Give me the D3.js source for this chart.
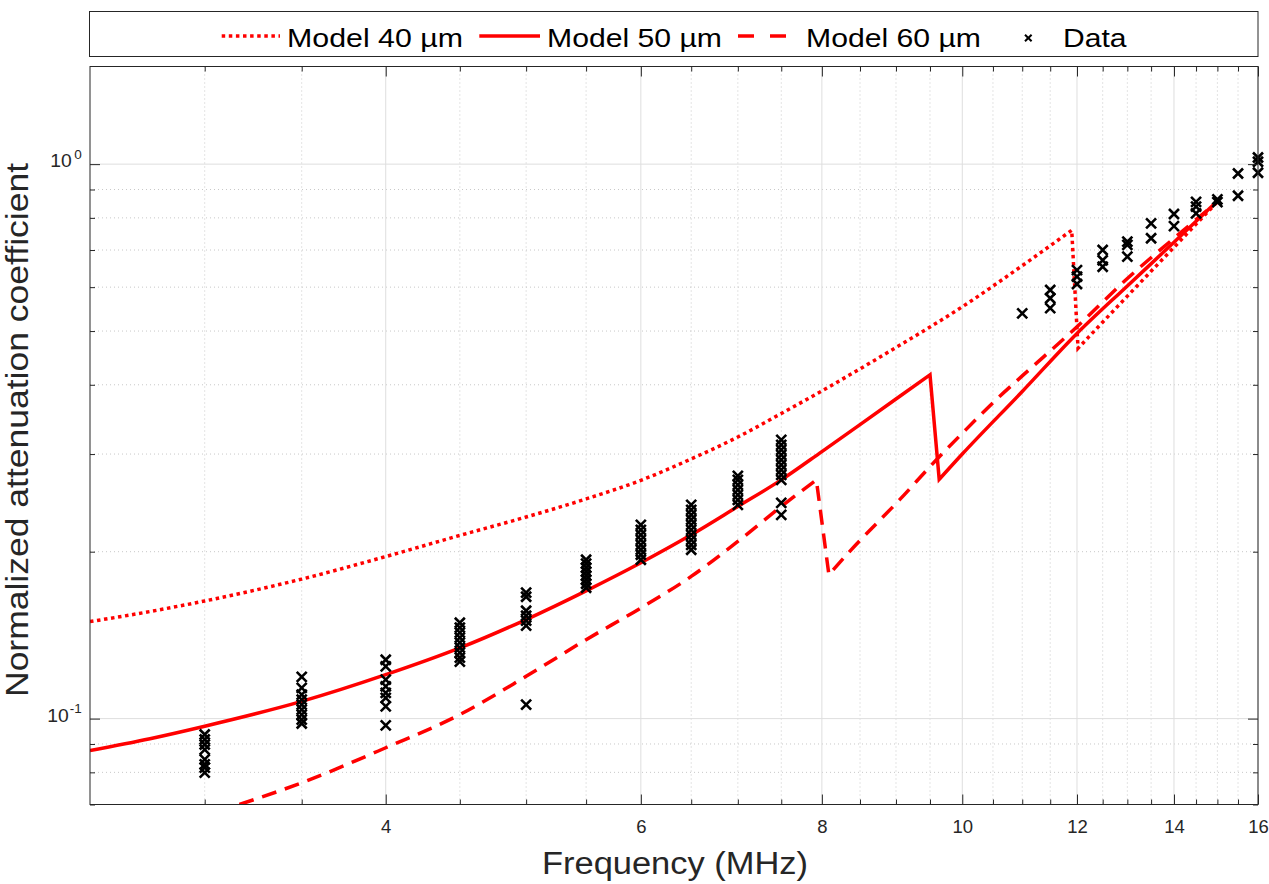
<!DOCTYPE html>
<html>
<head>
<meta charset="utf-8">
<script src="https://cdn.jsdelivr.net/npm/d3@7"></script>
<style>
  html, body { margin: 0; padding: 0; background: #ffffff; }
  svg { display: block; font-family: "Liberation Sans", Arial, Helvetica, sans-serif; }
</style>
</head>
<body>
<svg id="chart" width="1269" height="884"></svg>
<script>
// ---------- data ----------
const xTickValues = [4, 6, 8, 10, 12, 14, 16];
const xTickLabels = ["4", "6", "8", "10", "12", "14", "16"];
const xMinorValues = [3, 3.5, 4.5, 5, 5.5, 6.5, 7, 7.5, 8.5, 9, 9.5, 10.5, 11, 11.5, 12.5, 13, 13.5, 14.5, 15, 15.5];
const yTickValues = [0.1, 1];
const yTickExponents = ["-1", "0"];
const yMinorValues = [0.07, 0.08, 0.09, 0.2, 0.3, 0.4, 0.5, 0.6, 0.7, 0.8, 0.9];

const legendLabels = ["Model 40 µm", "Model 50 µm", "Model 60 µm", "Data"];
const xLabel = "Frequency (MHz)";
const yLabel = "Normalized attenuation coefficient";

const model40Freq = [2.5, 2.75, 3, 3.5, 4, 4.5, 5, 5.5, 6, 6.5, 7, 7.5, 8, 9, 10, 11, 11.9, 12.02, 13, 14, 15];
const model40Value = [0.1496, 0.1560, 0.1630, 0.1785, 0.1960, 0.2140, 0.2310, 0.2490, 0.2690, 0.2940, 0.3220, 0.3550, 0.3900, 0.467, 0.553, 0.656, 0.760, 0.4655, 0.578, 0.708, 0.855];

const model50Freq = [2.5, 2.75, 3, 3.5, 4, 4.5, 5, 5.5, 6, 6.5, 7, 7.5, 8, 8.5, 9, 9.5, 9.64, 10, 11, 12, 13, 14, 15];
const model50Value = [0.0876, 0.0920, 0.0969, 0.1074, 0.1200, 0.1341, 0.1509, 0.1700, 0.1910, 0.2145, 0.2413, 0.2695, 0.3031, 0.339, 0.377, 0.417, 0.270, 0.300, 0.389, 0.495, 0.603, 0.723, 0.858];

const model60Freq = [3.17, 3.5, 4, 4.5, 5, 5.5, 6, 6.5, 7, 7.5, 7.93, 8.09, 8.36, 9.05, 9.62, 10, 10.61, 11, 12, 13, 14, 15];
const model60Value = [0.070, 0.0766, 0.0886, 0.1017, 0.1192, 0.1388, 0.1583, 0.1805, 0.2087, 0.2413, 0.2695, 0.1817, 0.2001, 0.248, 0.2949, 0.327, 0.381, 0.415, 0.509, 0.622, 0.735, 0.855];

const dataFreq = [
  3, 3, 3, 3, 3, 3, 3, 3,
  3.5, 3.5, 3.5, 3.5, 3.5, 3.5, 3.5, 3.5, 3.5,
  4, 4, 4, 4, 4, 4, 4, 4,
  4.5, 4.5, 4.5, 4.5, 4.5, 4.5, 4.5, 4.5, 4.5,
  5, 5, 5, 5, 5, 5, 5,
  5.5, 5.5, 5.5, 5.5, 5.5, 5.5, 5.5, 5.5,
  6, 6, 6, 6, 6, 6, 6, 6,
  6.5, 6.5, 6.5, 6.5, 6.5, 6.5, 6.5, 6.5, 6.5, 6.5,
  7, 7, 7, 7, 7, 7, 7,
  7.5, 7.5, 7.5, 7.5, 7.5, 7.5, 7.5, 7.5, 7.5, 7.5, 7.5,
  11,
  11.5, 11.5, 11.5,
  12, 12, 12,
  12.5, 12.5, 12.5,
  13, 13, 13,
  13.5, 13.5,
  14, 14,
  14.5, 14.5, 14.5,
  15, 15,
  15.5, 15.5,
  16, 16, 16
];
const dataValue = [
  0.0936, 0.0917, 0.0898, 0.0879, 0.0844, 0.0827, 0.0816, 0.0799,
  0.1189, 0.1136, 0.1105, 0.1082, 0.1060, 0.1038, 0.1017, 0.0996, 0.0980,
  0.1277, 0.1242, 0.1176, 0.1143, 0.1113, 0.1090, 0.1052, 0.0972,
  0.1489, 0.1459, 0.1429, 0.1400, 0.1371, 0.1343, 0.1315, 0.1288, 0.1267,
  0.1687, 0.1659, 0.1565, 0.1533, 0.1502, 0.1471, 0.1060,
  0.1934, 0.1903, 0.1871, 0.1840, 0.1810, 0.1780, 0.1751, 0.1722,
  0.2236, 0.2190, 0.2145, 0.2101, 0.2058, 0.2016, 0.1975, 0.1934,
  0.2430, 0.2379, 0.2331, 0.2284, 0.2236, 0.2190, 0.2145, 0.2101, 0.2058, 0.2016,
  0.2741, 0.2695, 0.2639, 0.2585, 0.2532, 0.2480, 0.2430,
  0.3182, 0.3117, 0.3053, 0.2990, 0.2929, 0.2869, 0.2809, 0.2752, 0.2695, 0.2450, 0.2331,
  0.538,
  0.593, 0.573, 0.550,
  0.644, 0.627, 0.608,
  0.700, 0.671, 0.653,
  0.725, 0.715, 0.681,
  0.782, 0.735,
  0.813, 0.773,
  0.855, 0.838, 0.815,
  0.864, 0.854,
  0.962, 0.877,
  1.028, 1.010, 0.965
];

// ---------- layout ----------
const W = 1269, H = 884;
const L = 90, R = 1258, T = 66.5, B = 804.5;
const axisColor = "#262626";
const red = "#ff0000";

const svg = d3.select("#chart");
svg.append("rect").attr("width", W).attr("height", H).attr("fill", "#ffffff");

const x = d3.scaleLog().domain([2.5, 16]).range([L, R]);
const y = d3.scaleLog().domain([0.07, 1.5]).range([B, T]);

svg.append("defs").append("clipPath").attr("id", "plotclip")
  .append("rect").attr("x", L).attr("y", T).attr("width", R - L).attr("height", B - T);

// ---------- grid ----------
const grid = svg.append("g");
grid.selectAll("line.xminor").data(xMinorValues).join("line")
  .attr("x1", d => x(d)).attr("x2", d => x(d)).attr("y1", T).attr("y2", B)
  .attr("stroke", "#c8c8c8").attr("stroke-width", 1).attr("stroke-dasharray", "1,3");
grid.selectAll("line.yminor").data(yMinorValues).join("line")
  .attr("y1", d => y(d)).attr("y2", d => y(d)).attr("x1", L).attr("x2", R)
  .attr("stroke", "#c8c8c8").attr("stroke-width", 1).attr("stroke-dasharray", "1,3");
grid.selectAll("line.xmajor").data(xTickValues).join("line")
  .attr("x1", d => x(d)).attr("x2", d => x(d)).attr("y1", T).attr("y2", B)
  .attr("stroke", "#dedede").attr("stroke-width", 1);
grid.selectAll("line.ymajor").data(yTickValues).join("line")
  .attr("y1", d => y(d)).attr("y2", d => y(d)).attr("x1", L).attr("x2", R)
  .attr("stroke", "#dedede").attr("stroke-width", 1);

// ---------- model lines ----------
// smooth (monotone) pieces, joined by straight segments at the sharp drops
const smooth = d3.line().x(d => x(d[0])).y(d => y(d[1])).curve(d3.curveMonotoneX);
function modelPath(freq, val) {
  const pts = freq.map((f, i) => [f, val[i]]);
  const pieces = [];
  let cur = [pts[0]];
  for (let i = 1; i < pts.length; i++) {
    if (pts[i][1] < pts[i - 1][1]) { pieces.push(cur); cur = [pts[i]]; }
    else cur.push(pts[i]);
  }
  pieces.push(cur);
  let d = "";
  pieces.forEach((p, k) => {
    let s = p.length > 1 ? smooth(p) : `M${x(p[0][0])},${y(p[0][1])}`;
    if (k > 0) s = "L" + s.slice(1);
    d += s;
  });
  return d;
}
const plotG = svg.append("g").attr("clip-path", "url(#plotclip)");
plotG.append("path").attr("d", modelPath(model40Freq, model40Value))
  .attr("fill", "none").attr("stroke", red)
  .attr("stroke-width", 3.5).attr("stroke-dasharray", "3.5,3.6");
plotG.append("path").attr("d", modelPath(model50Freq, model50Value))
  .attr("fill", "none").attr("stroke", red).attr("stroke-width", 3.5);
plotG.append("path").attr("d", modelPath(model60Freq, model60Value))
  .attr("fill", "none").attr("stroke", red)
  .attr("stroke-width", 3.5).attr("stroke-dasharray", "15,9");

// ---------- data markers ----------
const ms = 5;
svg.append("g").selectAll("path").data(dataFreq.map((f, i) => [f, dataValue[i]])).join("path")
  .attr("d", d => {
    const cx = x(d[0]), cy = y(d[1]);
    return `M${cx - ms},${cy - ms}L${cx + ms},${cy + ms}M${cx - ms},${cy + ms}L${cx + ms},${cy - ms}`;
  })
  .attr("stroke", "#000").attr("stroke-width", 2.6).attr("fill", "none");

// ---------- axes ----------
function styleAxis(g) {
  g.select(".domain").remove();
  g.selectAll(".tick line").attr("stroke", axisColor).attr("stroke-width", 1);
  g.selectAll(".tick text").attr("fill", axisColor);
}
const bottomAxis = svg.append("g").attr("transform", `translate(0,${B})`)
  .call(d3.axisBottom(x).tickValues(xTickValues).tickSize(-10).tickPadding(15)
    .tickFormat((d, i) => xTickLabels[i]));
styleAxis(bottomAxis);
bottomAxis.selectAll(".tick text").attr("font-size", 18.5).attr("font-family", "Liberation Sans, Arial, sans-serif");
styleAxis(svg.append("g").attr("transform", `translate(0,${B})`)
  .call(d3.axisBottom(x).tickValues(xMinorValues).tickSize(-5).tickFormat("")));
styleAxis(svg.append("g").attr("transform", `translate(0,${T})`)
  .call(d3.axisTop(x).tickValues(xTickValues).tickSize(-10).tickFormat("")));
styleAxis(svg.append("g").attr("transform", `translate(0,${T})`)
  .call(d3.axisTop(x).tickValues(xMinorValues).tickSize(-5).tickFormat("")));
styleAxis(svg.append("g").attr("transform", `translate(${L},0)`)
  .call(d3.axisLeft(y).tickValues(yTickValues).tickSize(-10).tickFormat("")));
styleAxis(svg.append("g").attr("transform", `translate(${L},0)`)
  .call(d3.axisLeft(y).tickValues(yMinorValues).tickSize(-5).tickFormat("")));
styleAxis(svg.append("g").attr("transform", `translate(${R},0)`)
  .call(d3.axisRight(y).tickValues(yTickValues).tickSize(-10).tickFormat("")));
styleAxis(svg.append("g").attr("transform", `translate(${R},0)`)
  .call(d3.axisRight(y).tickValues(yMinorValues).tickSize(-5).tickFormat("")));

// y tick labels with superscripts
const ylab = svg.append("g");
yTickValues.forEach((v, i) => {
  const ty = y(v);
  const exp = yTickExponents[i];
  const expW = exp.length > 1 ? 12.5 : 9.5;
  const expEnd = 81.8;
  ylab.append("text").attr("x", expEnd).attr("y", ty - 5.5)
    .attr("text-anchor", "end").attr("font-size", 13.5).attr("fill", axisColor)
    .text(exp);
  ylab.append("text").attr("x", expEnd - expW - 0.5).attr("y", ty + 3)
    .attr("text-anchor", "end").attr("font-size", 18.5).attr("fill", axisColor)
    .attr("textLength", 21.5).attr("lengthAdjust", "spacingAndGlyphs")
    .text("10");
});

// box
svg.append("rect").attr("x", L).attr("y", T).attr("width", R - L).attr("height", B - T)
  .attr("fill", "none").attr("stroke", axisColor).attr("stroke-width", 1);

// axis labels
svg.append("text").attr("x", 675).attr("y", 874)
  .attr("text-anchor", "middle").attr("font-size", 31).attr("fill", axisColor)
  .attr("textLength", 266).attr("lengthAdjust", "spacingAndGlyphs")
  .text(xLabel);
svg.append("text").attr("transform", `translate(28,430) rotate(-90)`)
  .attr("text-anchor", "middle").attr("font-size", 30.5).attr("fill", axisColor)
  .attr("textLength", 534).attr("lengthAdjust", "spacingAndGlyphs")
  .text(yLabel);

// ---------- legend ----------
const leg = svg.append("g");
leg.append("rect").attr("x", 89.5).attr("y", 11.5).attr("width", 1168.5).attr("height", 45)
  .attr("fill", "#ffffff").attr("stroke", axisColor).attr("stroke-width", 1);
const legLineY = 36;
const legItems = [
  { x1: 221.7, x2: 280, tx: 287, tw: 176, dash: "3.5,3.6", kind: "line" },
  { x1: 479.3, x2: 540, tx: 547, tw: 175, dash: null, kind: "line" },
  { x1: 738, x2: 786, tx: 806, tw: 175, dash: "16,16", kind: "line" },
  { x1: 1028.3, x2: 1028.3, tx: 1063, tw: 63.5, dash: null, kind: "marker" }
];
legItems.forEach((it, i) => {
  if (it.kind === "line") {
    const l = leg.append("line").attr("x1", it.x1).attr("x2", it.x2)
      .attr("y1", legLineY).attr("y2", legLineY)
      .attr("stroke", red).attr("stroke-width", 3.5);
    if (it.dash) l.attr("stroke-dasharray", it.dash);
  } else {
    const m = 3.3, cx = it.x1, cy = 38;
    leg.append("path")
      .attr("d", `M${cx - m},${cy - m}L${cx + m},${cy + m}M${cx - m},${cy + m}L${cx + m},${cy - m}`)
      .attr("stroke", "#000").attr("stroke-width", 2);
  }
  leg.append("text").attr("x", it.tx).attr("y", 46.7)
    .attr("font-size", 26.5).attr("fill", "#000")
    .attr("textLength", it.tw).attr("lengthAdjust", "spacingAndGlyphs")
    .text(legendLabels[i]);
});
</script>
</body>
</html>
